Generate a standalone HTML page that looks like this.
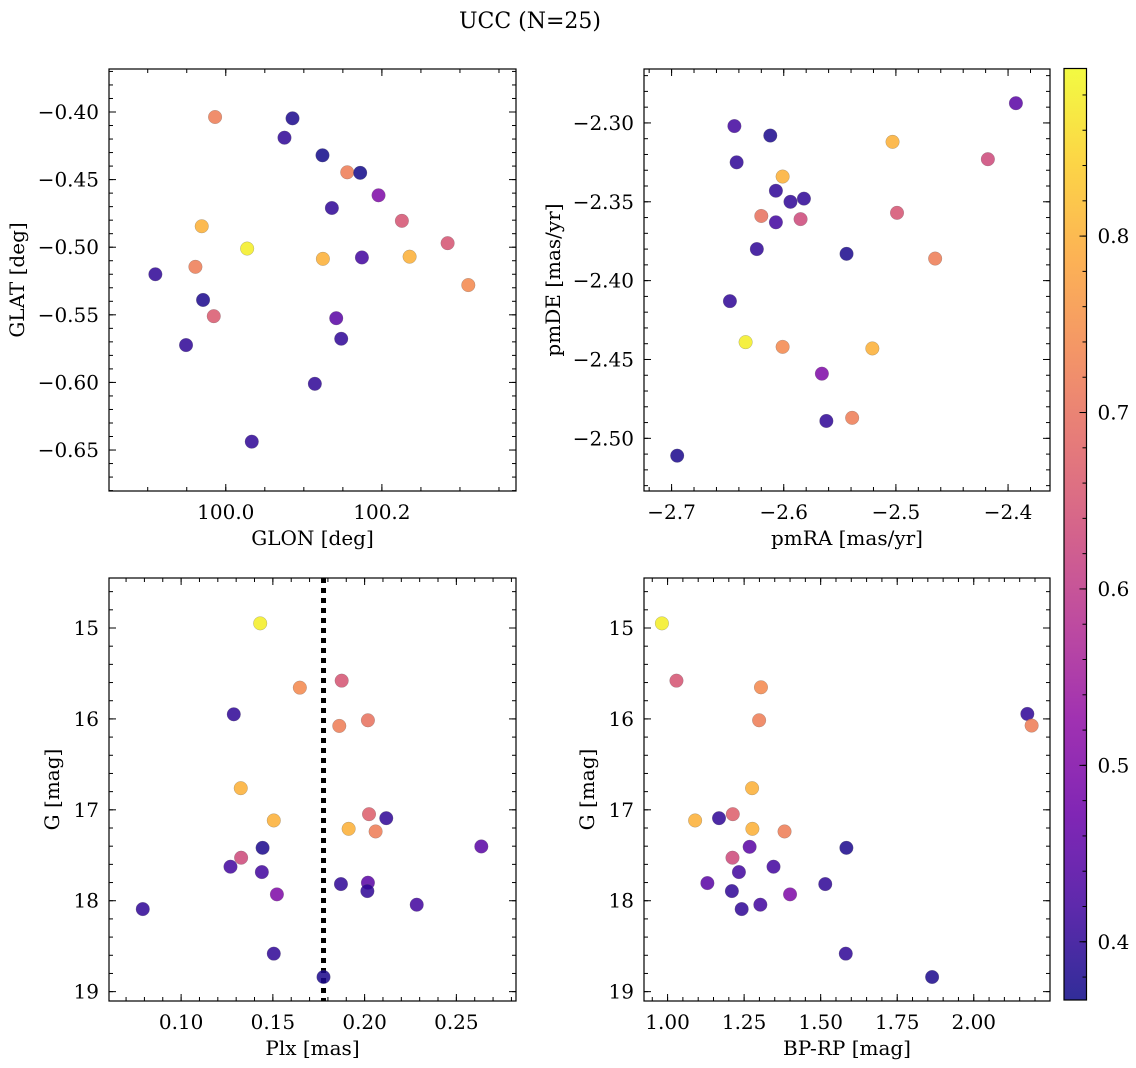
<!DOCTYPE html>
<html><head><meta charset="utf-8"><style>
html,body{margin:0;padding:0;background:#fff;}
svg{display:block;font-family:"DejaVu Serif","Liberation Serif",serif;}
</style></head><body>
<svg id="fig" width="1136" height="1068" viewBox="0 0 1136 1068">
<text x="530" y="28" font-size="22" text-anchor="middle">UCC (N=25)</text>
</svg>
<script>
// ---- data ----
const glon=[99.9863,100.0855,100.0752,100.1239,100.1556,100.1722,100.1957,100.1359,100.2256,99.9692,100.2842,100.0274,100.1244,100.1744,100.2355,99.9098,99.9611,100.3107,99.9709,99.9846,100.1415,100.1479,99.9491,100.1141,100.0333];
const glat=[-0.4037,-0.4047,-0.419,-0.432,-0.4446,-0.445,-0.4616,-0.471,-0.4805,-0.4845,-0.497,-0.501,-0.5086,-0.5076,-0.507,-0.520,-0.5145,-0.528,-0.539,-0.551,-0.5525,-0.5677,-0.5724,-0.601,-0.6438];
const cP1=[0.72,0.38,0.40,0.37,0.72,0.37,0.50,0.40,0.65,0.80,0.65,0.88,0.80,0.42,0.80,0.40,0.72,0.74,0.38,0.66,0.45,0.40,0.40,0.40,0.40];
const pmra=[-2.393,-2.644,-2.612,-2.642,-2.503,-2.418,-2.601,-2.607,-2.594,-2.582,-2.620,-2.607,-2.585,-2.499,-2.624,-2.544,-2.465,-2.648,-2.634,-2.601,-2.521,-2.566,-2.562,-2.539,-2.695];
const pmde=[-2.2875,-2.302,-2.308,-2.325,-2.312,-2.323,-2.334,-2.343,-2.350,-2.348,-2.359,-2.363,-2.361,-2.357,-2.380,-2.383,-2.386,-2.413,-2.439,-2.442,-2.443,-2.459,-2.489,-2.487,-2.511];
const cP2=[0.45,0.42,0.38,0.40,0.80,0.63,0.80,0.40,0.40,0.40,0.70,0.42,0.63,0.65,0.40,0.38,0.72,0.40,0.88,0.74,0.80,0.50,0.40,0.72,0.38];
const plx=[0.1431,0.1647,0.1875,0.1287,0.1862,0.2018,0.1325,0.1505,0.2024,0.2118,0.1913,0.2060,0.2636,0.1444,0.1327,0.1269,0.1440,0.1522,0.1871,0.2018,0.2015,0.2284,0.0791,0.1505,0.1776];
const gmag3=[14.949,15.656,15.579,15.949,16.077,16.015,16.762,17.117,17.048,17.092,17.209,17.238,17.403,17.418,17.527,17.626,17.685,17.930,17.817,17.802,17.894,18.044,18.092,18.582,18.839];
const cP3=[0.88,0.74,0.65,0.40,0.72,0.70,0.80,0.80,0.67,0.40,0.80,0.72,0.45,0.38,0.63,0.42,0.42,0.50,0.40,0.45,0.40,0.42,0.40,0.40,0.38];
const bprp=[0.9815,1.029,1.305,1.299,2.175,2.189,1.276,1.090,1.168,1.213,1.277,1.382,1.268,1.584,1.212,1.346,1.233,1.130,1.515,1.210,1.400,1.303,1.242,1.582,1.864];
const gmag4=[14.949,15.579,15.652,16.015,15.945,16.073,16.762,17.117,17.092,17.048,17.209,17.238,17.407,17.418,17.527,17.626,17.685,17.806,17.817,17.894,17.930,18.044,18.092,18.582,18.839];
const cP4=[0.88,0.65,0.74,0.72,0.40,0.72,0.80,0.80,0.40,0.67,0.80,0.72,0.45,0.38,0.63,0.42,0.42,0.45,0.40,0.40,0.50,0.42,0.40,0.40,0.38];
const plxLine=[0.1776];
const cbTicks=[0.4,0.5,0.6,0.7,0.8];
const vmin=0.367, vmax=0.895;

const NS="http://www.w3.org/2000/svg";
const svg=document.getElementById('fig');
function el(t,a,p){const e=document.createElementNS(NS,t);for(const k in a)e.setAttribute(k,a[k]);(p||svg).appendChild(e);return e;}
const stops=[[13,8,135],[65,4,157],[106,0,168],[143,13,164],[177,42,144],[204,71,120],[225,100,98],[242,132,75],[252,166,54],[252,206,37],[240,249,33]];
function plasma(t){t=Math.max(0,Math.min(1,t));const f=t*10,i=Math.min(9,Math.floor(f)),r=f-i;const a=stops[i],b=stops[i+1];return 'rgb('+a.map((v,k)=>Math.round(v+(b[k]-v)*r)).join(',')+')';}
function fmt(v,d){const s=Math.abs(v).toFixed(d);return (v<-1e-9?'\u2212':'')+s;}

function panel(o){
  const g=el('g',{});
  
  
  const X=v=>o.l+(v-o.x0)/(o.x1-o.x0)*(o.r-o.l);
  const Y=v=>o.b-(v-o.y0)/(o.y1-o.y0)*(o.b-o.t);
  const tg=el('g',{stroke:'#000','stroke-width':1},g);
  function ticksX(step,len,lab,d){
    const s=Math.ceil((Math.min(o.x0,o.x1))/step-1e-6);
    for(let k=s;k*step<=Math.max(o.x0,o.x1)+1e-9;k++){const v=k*step,x=X(v);
      el('line',{x1:x,x2:x,y1:o.b,y2:o.b-len},tg);el('line',{x1:x,x2:x,y1:o.t,y2:o.t+len},tg);
      if(lab){const t=el('text',{x:x,y:o.b+28,'font-size':20,'text-anchor':'middle',stroke:'none'},g);t.textContent=fmt(v,d);
        }}
  }
  function ticksY(step,len,lab,d){
    const lo=Math.min(o.y0,o.y1),hi=Math.max(o.y0,o.y1);
    for(let k=Math.ceil(lo/step-1e-6);k*step<=hi+1e-9;k++){const v=k*step,y=Y(v);
      el('line',{x1:o.l,x2:o.l+len,y1:y,y2:y},tg);el('line',{x1:o.r,x2:o.r-len,y1:y,y2:y},tg);
      if(lab){const t=el('text',{x:o.l-10,y:y+7,'font-size':20,'text-anchor':'end',stroke:'none'},g);t.textContent=fmt(v,d);
        }}
  }
  ticksX(o.xmin,4,false);ticksX(o.xmaj,7,true,o.xd);
  ticksY(o.ymin,4,false);ticksY(o.ymaj,7,true,o.yd);
  if(o.vline){for(const v of o.vline){const l=el('line',{x1:X(v),x2:X(v),y1:o.t,y2:o.b,stroke:'#000','stroke-width':5,'stroke-dasharray':'5,5'},g);
    }}
  for(let i=0;i<o.xs.length;i++){
    const c=el('circle',{cx:X(o.xs[i]),cy:Y(o.ys[i]),r:6.8,fill:plasma((o.cs[i]-vmin)/(vmax-vmin)),'fill-opacity':0.85,stroke:'#666','stroke-width':0.4,'stroke-opacity':0.6},g);
    
    
  }
  el('rect',{x:o.l,y:o.t,width:o.r-o.l,height:o.b-o.t,fill:'none',stroke:'#000','stroke-width':1.2},g);
  const xl=el('text',{x:(o.l+o.r)/2,y:o.b+54,'font-size':20,'text-anchor':'middle'},g);xl.textContent=o.xlab;
  
  const yl=el('text',{x:0,y:0,'font-size':20,'text-anchor':'middle',transform:'translate('+o.ylx+','+((o.t+o.b)/2)+') rotate(-90)'},g);yl.textContent=o.ylab;
  
}
panel({name:'glon-glat-panel',l:109,r:516,t:69,b:491,x0:99.8504,x1:100.3718,y0:-0.6803,y1:-0.3682,xmaj:0.2,xmin:0.05,ymaj:0.05,ymin:0.01,xd:1,yd:2,xs:glon,ys:glat,cs:cP1,xlab:'GLON [deg]',ylab:'GLAT [deg]',ylx:24});
panel({name:'pm-panel',l:644,r:1050,t:69,b:491,x0:-2.7246,x1:-2.3626,y0:-2.5334,y1:-2.2658,xmaj:0.1,xmin:0.02,ymaj:0.05,ymin:0.01,xd:1,yd:2,xs:pmra,ys:pmde,cs:cP2,xlab:'pmRA [mas/yr]',ylab:'pmDE [mas/yr]',ylx:560});
panel({name:'plx-g-panel',l:109,r:516,t:578,b:1001,x0:0.0607,x1:0.2825,y0:19.103,y1:14.45,xmaj:0.05,xmin:0.01,ymaj:1,ymin:0.2,xd:2,yd:0,xs:plx,ys:gmag3,cs:cP3,vline:plxLine,xlab:'Plx [mas]',ylab:'G [mag]',ylx:59});
panel({name:'cmd-panel',l:644,r:1050,t:578,b:1001,x0:0.923,x1:2.249,y0:19.103,y1:14.45,xmaj:0.25,xmin:0.05,ymaj:1,ymin:0.2,xd:2,yd:0,xs:bprp,ys:gmag4,cs:cP4,xlab:'BP-RP [mag]',ylab:'G [mag]',ylx:594});

// colorbar
const cb=el('g',{});
const defs=el('defs',{},cb);const lg=el('linearGradient',{id:'pg',x1:0,y1:1,x2:0,y2:0},defs);
for(let i=0;i<=20;i++){el('stop',{offset:i/20,'stop-color':plasma(i/20),'stop-opacity':0.85},lg);}
const cT=68.5,cB=1000,cL=1064,cR=1086.5;
el('rect',{x:cL,y:cT,width:cR-cL,height:cB-cT,fill:'url(#pg)'},cb);
const CY=v=>cB-(v-vmin)/(vmax-vmin)*(cB-cT);
for(let k=Math.ceil(vmin/0.02);k*0.02<=vmax;k++){const y=CY(k*0.02);el('line',{x1:cR,x2:cR-4,y1:y,y2:y,stroke:'#000'},cb);}
for(const v of cbTicks){const y=CY(v);el('line',{x1:cR,x2:cR-7,y1:y,y2:y,stroke:'#000'},cb);
  const t=el('text',{x:cR+11,y:y+7,'font-size':20},cb);t.textContent=v.toFixed(1);
  }
el('rect',{x:cL,y:cT,width:cR-cL,height:cB-cT,fill:'none',stroke:'#000','stroke-width':1.2},cb);
</script>
</body></html>
